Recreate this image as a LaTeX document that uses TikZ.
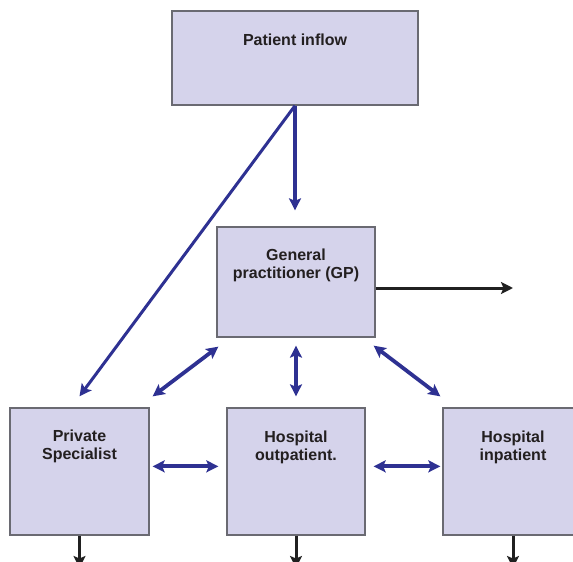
\documentclass[tikz,border=0pt]{standalone}
\usepackage{fontspec}
\setmainfont{Liberation Sans}
\usetikzlibrary{arrows.meta,calc}
\definecolor{boxfill}{HTML}{D5D3EB}
\definecolor{boxline}{HTML}{6A6A72}
\definecolor{flowblue}{HTML}{2E3192}
\definecolor{flowblack}{HTML}{202020}
\definecolor{txt}{HTML}{231F20}
\begin{document}
\begin{tikzpicture}[x=1pt,y=-1pt,
  box/.style={draw=boxline, fill=boxfill, line width=1.3pt, inner sep=0pt},
  lbl/.style={font=\bfseries\fontsize{16}{18}\selectfont, align=center, anchor=north, inner sep=0pt, text=txt},
  tip/.tip={Stealth[length=12pt,width=12pt,inset=2.5pt]},
  flow/.style={draw=flowblue, line width=3.2pt, -tip},
  both/.style={draw=flowblue, line width=3.8pt, tip-tip},
  outarr/.style={draw=flowblack, line width=3pt, -tip}]
\clip (0,0) rectangle (573,562);
\fill[white] (0,0) rectangle (573,562);
% boxes
\node[box, minimum width=246pt, minimum height=94pt] (inflow) at (295,58) {};
\node[box, minimum width=158pt, minimum height=110pt] (gp) at (296,282) {};
\node[box, minimum width=139pt, minimum height=127pt] (priv) at (79.5,471.5) {};
\node[box, minimum width=138pt, minimum height=127pt] (outp) at (296,471.5) {};
\node[box, minimum width=140pt, minimum height=127pt] (inp) at (513,471.5) {};
% labels
\node[lbl] (tinflow) at (295,34) {Patient inflow};
\node[lbl] (tgp) at (296,249) {General\\practitioner (GP)};
\node[lbl] (tpriv) at (79.5,430) {Private\\Specialist};
\node[lbl] (toutp) at (296,431) {Hospital\\outpatient.};
\node[lbl] (tinp) at (513,431) {Hospital\\inpatient};
% free ends
\coordinate (gpend) at (513,288);
\coordinate (pend) at (79.5,568);
\coordinate (oend) at (296,568);
\coordinate (iend) at (513,568);
% connectors
\draw[flow] (inflow.south) -- ($(inflow.south |- gp.north)+(0,-16)$);
\draw[flow, line width=3pt] (inflow.south) -- ($(priv.north)+(0,-11)$);
\draw[both] ($(gp.south west)+(2,9)$) -- ($(priv.north east)+(3,-11)$);
\draw[both] ($(gp.south)+(0,8)$) -- ($(outp.north)+(0,-11)$);
\draw[both] ($(gp.south east)+(-2,8)$) -- ($(inp.north west)+(-2,-11)$);
\draw[both] ($(priv.north east)+(3,59)$) -- ($(outp.north west)+(-8,59)$);
\draw[both] ($(outp.north east)+(8,59)$) -- ($(inp.north west)+(-2,59)$);
\draw[outarr] (gp.east |- gpend) -- (gpend);
\draw[outarr] (priv.south) -- (pend);
\draw[outarr] (outp.south) -- (oend);
\draw[outarr] (inp.south) -- (iend);
\end{tikzpicture}
\end{document}
